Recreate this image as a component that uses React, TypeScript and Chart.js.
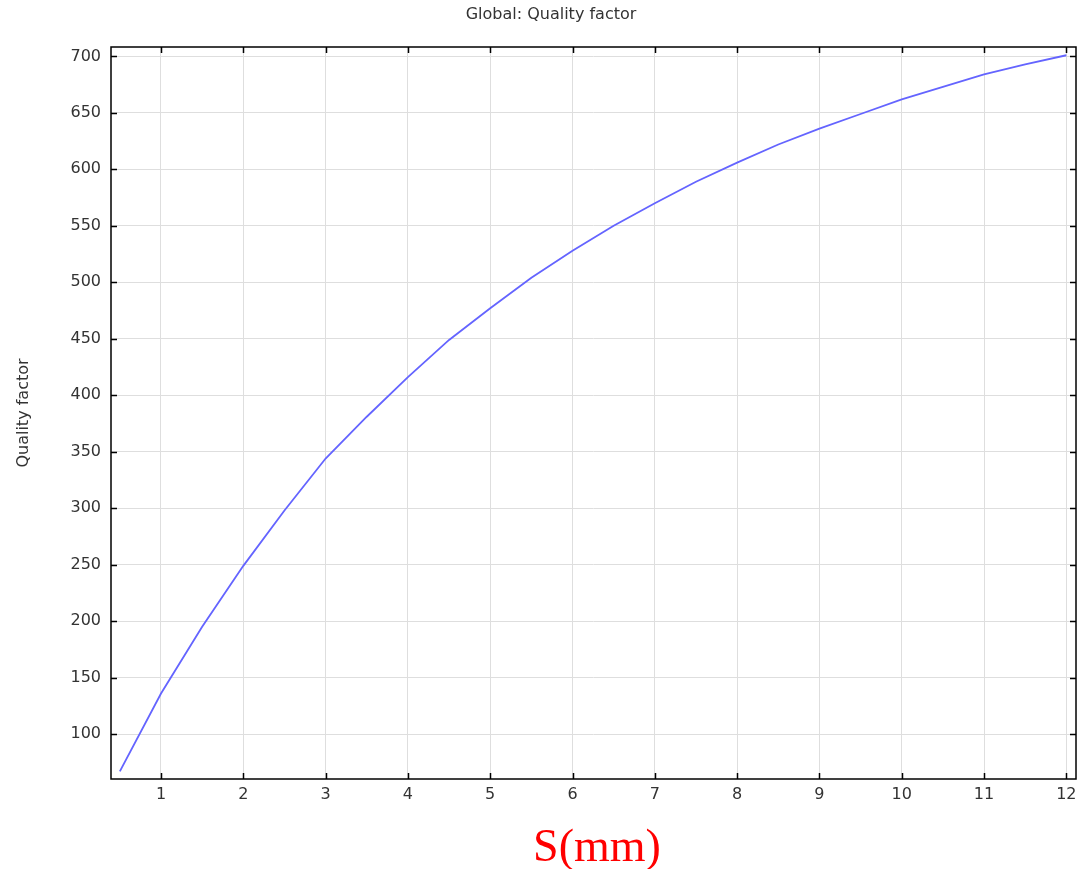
import React, { useEffect, useRef } from "react";
import { Chart, registerables } from "chart.js";

Chart.register(...registerables);

const sValues = [0.5, 1, 1.5, 2, 2.5, 3, 3.5, 4, 4.5, 5, 5.5, 6, 6.5, 7, 7.5, 8, 8.5, 9, 9.5, 10, 10.5, 11, 11.5, 12];
const qualityFactor = [67, 136, 195, 249, 298, 344, 381, 416, 449, 477, 504, 528, 550, 570, 589, 606, 622, 636, 649, 662, 673, 684, 693, 701];

const xTickValues = [1, 2, 3, 4, 5, 6, 7, 8, 9, 10, 11, 12];
const yTickValues = [100, 150, 200, 250, 300, 350, 400, 450, 500, 550, 600, 650, 700];

const chartTitle = "Global: Quality factor";
const yAxisTitle = "Quality factor";
const xAxisTitle = "S(mm)";

const FONT = "'DejaVu Sans', sans-serif";

const framePlugin = {
  id: "frameAndLabels",
  afterDraw(chart: any) {
    const { ctx, chartArea } = chart;
    const { left, right, top, bottom } = chartArea;
    const xs = chart.scales.x;
    const ys = chart.scales.y;
    ctx.save();
    ctx.strokeStyle = "#000";
    ctx.lineWidth = 1.5;
    ctx.strokeRect(left, top, right - left, bottom - top);
    const tl = 6;
    ctx.beginPath();
    xs.ticks.forEach((t: any) => {
      const px = Math.round(xs.getPixelForValue(t.value)) + 0.5;
      ctx.moveTo(px, bottom);
      ctx.lineTo(px, bottom - tl);
      ctx.moveTo(px, top);
      ctx.lineTo(px, top + tl);
    });
    ys.ticks.forEach((t: any) => {
      const py = Math.round(ys.getPixelForValue(t.value)) + 0.5;
      ctx.moveTo(left, py);
      ctx.lineTo(left + tl, py);
      ctx.moveTo(right, py);
      ctx.lineTo(right - tl, py);
    });
    ctx.stroke();

    ctx.fillStyle = "#333";
    ctx.font = `16px ${FONT}`;
    ctx.textAlign = "center";
    ctx.textBaseline = "middle";
    ctx.fillText(chartTitle, 551, 15);

    ctx.save();
    ctx.translate(24, (top + bottom) / 2);
    ctx.rotate(-Math.PI / 2);
    ctx.fillText(yAxisTitle, 0, 0);
    ctx.restore();

    ctx.fillStyle = "#ff0000";
    ctx.font = `46px 'Liberation Serif', 'Times New Roman', serif`;
    ctx.textBaseline = "alphabetic";
    ctx.fillText(xAxisTitle, 597, 861);
    ctx.restore();
  },
};

export default function App() {
  const canvasRef = useRef<HTMLCanvasElement | null>(null);

  useEffect(() => {
    const canvas = canvasRef.current;
    if (!canvas) return;
    const chart = new Chart(canvas, {
      type: "line",
      data: {
        datasets: [
          {
            label: yAxisTitle,
            data: sValues.map((s, i) => ({ x: s, y: qualityFactor[i] })),
            borderColor: "#6464ff",
            borderWidth: 1.8,
            pointRadius: 0,
            tension: 0,
            fill: false,
          },
        ],
      },
      options: {
        animation: false,
        responsive: false,
        maintainAspectRatio: false,
        layout: { padding: { top: 47, right: 13, bottom: 60, left: 0 } },
        plugins: {
          legend: { display: false },
          title: { display: false },
          tooltip: { enabled: false },
        },
        scales: {
          x: {
            type: "linear",
            min: 0.3925,
            max: 12.1175,
            afterBuildTicks: (scale: any) => {
              scale.ticks = xTickValues.map((v) => ({ value: v }));
            },
            afterFit: (scale: any) => {
              scale.height = 30;
            },
            ticks: {
              autoSkip: false,
              color: "#333",
              font: { family: FONT, size: 16 },
              padding: 6,
              maxRotation: 0,
            },
            grid: { color: "#dedede", lineWidth: 1, drawTicks: false },
            border: { display: false },
          },
          y: {
            type: "linear",
            min: 60.3,
            max: 708.3,
            afterBuildTicks: (scale: any) => {
              scale.ticks = yTickValues.map((v) => ({ value: v }));
            },
            afterFit: (scale: any) => {
              scale.width = 111;
            },
            ticks: {
              autoSkip: false,
              color: "#333",
              font: { family: FONT, size: 16 },
              padding: 10,
            },
            grid: { color: "#dedede", lineWidth: 1, drawTicks: false },
            border: { display: false },
          },
        },
      },
      plugins: [framePlugin],
    });
    return () => chart.destroy();
  }, []);

  return (
    <div style={{ position: "absolute", left: 0, top: 0, width: 1089, height: 869, background: "#fff" }}>
      <canvas ref={canvasRef} width={1089} height={869} style={{ display: "block" }} />
    </div>
  );
}
